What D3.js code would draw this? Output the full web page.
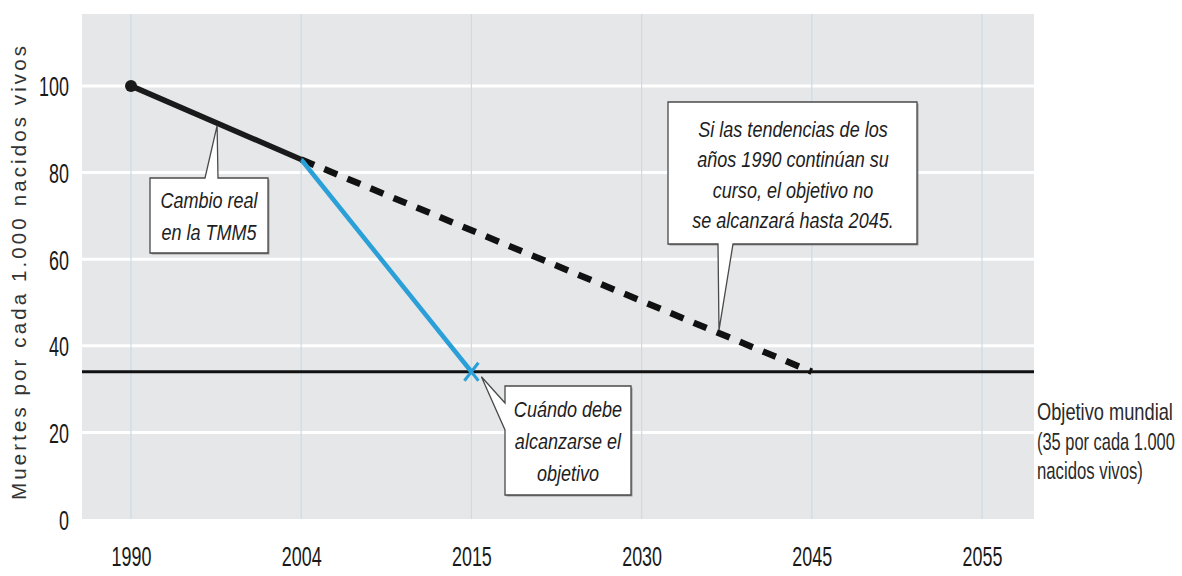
<!DOCTYPE html>
<html>
<head>
<meta charset="utf-8">
<script src="https://cdn.jsdelivr.net/npm/d3@7"></script>
<style>
  body { margin: 0; background: #fff; }
  text { font-family: "Liberation Sans", Arial, sans-serif; }
</style>
</head>
<body>
<div id="chart"></div>
<script>
// Chart data
const years = ["1990", "2004", "2015", "2030", "2045", "2055"];
const yTicks = [0, 20, 40, 60, 80, 100];
const actualYears = ["1990", "2004"];
const actualValues = [100, 83];
const neededYears = ["2004", "2015"];
const neededValues = [83, 34];
const trendYears = ["2004", "2045"];
const trendValues = [83, 34];
const targetValue = 34;
const targetLines = ["Objetivo mundial", "(35 por cada 1.000", "nacidos vivos)"];

const svgWidth = 1182;
const svgHeight = 576;
const margin = { top: 14, right: 148, bottom: 57, left: 82 };
const chartWidth = svgWidth - margin.left - margin.right;
const chartHeight = svgHeight - margin.top - margin.bottom;

// horizontal squeeze used for the condensed lettering
const narrowTicks = 0.64;
const narrowNotes = 0.82;

const svg = d3.select("#chart")
  .append("svg")
  .attr("width", svgWidth)
  .attr("height", svgHeight);

const chartGroup = svg.append("g")
  .attr("transform", `translate(${margin.left}, ${margin.top})`);

// scales
const xScale = d3.scalePoint()
  .domain(years)
  .range([49, 900]);

const yScale = d3.scaleLinear()
  .domain([0, 116.6])
  .range([chartHeight, 0]);

// plot background
chartGroup.append("rect")
  .attr("width", chartWidth)
  .attr("height", chartHeight)
  .attr("fill", "#e6e7e8");

// horizontal white grid
chartGroup.selectAll(".hgrid")
  .data(yTicks.filter(d => d > 0))
  .enter()
  .append("line")
  .attr("x1", 0)
  .attr("x2", chartWidth)
  .attr("y1", d => yScale(d))
  .attr("y2", d => yScale(d))
  .attr("stroke", "#fff")
  .attr("stroke-width", 3);

// vertical light blue grid
chartGroup.selectAll(".vgrid")
  .data(years)
  .enter()
  .append("line")
  .attr("x1", d => xScale(d))
  .attr("x2", d => xScale(d))
  .attr("y1", 0)
  .attr("y2", chartHeight)
  .attr("stroke", "#c9dcea")
  .attr("stroke-width", 1.2);

// axes (labels only)
const bottomAxis = d3.axisBottom(xScale).tickSize(0).tickPadding(0);
const leftAxis = d3.axisLeft(yScale).tickValues(yTicks).tickSize(0).tickPadding(0);

const xAxisG = chartGroup.append("g")
  .attr("transform", `translate(0, ${chartHeight})`)
  .call(bottomAxis);
xAxisG.select(".domain").remove();
xAxisG.selectAll("text")
  .attr("y", 0)
  .attr("dy", 0)
  .attr("transform", `translate(0, 47) scale(${narrowTicks}, 1)`)
  .attr("font-family", "Liberation Sans, Arial, sans-serif")
  .attr("font-size", 28)
  .attr("fill", "#1a1a1a");

const yAxisG = chartGroup.append("g").call(leftAxis);
yAxisG.select(".domain").remove();
yAxisG.selectAll("text")
  .attr("x", 0)
  .attr("dy", "0.36em")
  .attr("transform", `translate(-13, 0) scale(${narrowTicks}, 1)`)
  .attr("font-family", "Liberation Sans, Arial, sans-serif")
  .attr("font-size", 28)
  .attr("fill", "#1a1a1a");

// target line
chartGroup.append("line")
  .attr("x1", 0)
  .attr("x2", chartWidth)
  .attr("y1", yScale(targetValue))
  .attr("y2", yScale(targetValue))
  .attr("stroke", "#111")
  .attr("stroke-width", 3);

const line = d3.line()
  .x(d => xScale(d[0]))
  .y(d => yScale(d[1]));

// trend (dashed)
chartGroup.append("path")
  .attr("d", line(d3.zip(trendYears, trendValues)))
  .attr("fill", "none")
  .attr("stroke", "#111")
  .attr("stroke-width", 6.5)
  .attr("stroke-dasharray", "14,11");

// needed path (blue)
chartGroup.append("path")
  .attr("d", line(d3.zip(neededYears, neededValues)))
  .attr("fill", "none")
  .attr("stroke", "#2a9fd8")
  .attr("stroke-width", 4.5);

// actual change (solid black)
chartGroup.append("path")
  .attr("d", line(d3.zip(actualYears, actualValues)))
  .attr("fill", "none")
  .attr("stroke", "#1a1a1a")
  .attr("stroke-width", 5.5);

chartGroup.append("circle")
  .attr("cx", xScale(actualYears[0]))
  .attr("cy", yScale(actualValues[0]))
  .attr("r", 6)
  .attr("fill", "#1a1a1a");

// blue X at the goal
const gx = xScale(neededYears[1]);
const gy = yScale(neededValues[1]);
chartGroup.append("path")
  .attr("d", `M${gx - 7},${gy - 9}L${gx + 7},${gy + 9}M${gx + 7},${gy - 9}L${gx - 7},${gy + 9}`)
  .attr("stroke", "#2a9fd8")
  .attr("stroke-width", 3)
  .attr("fill", "none");

// point on a segment at fraction t
function along(ys, vs, t) {
  const x0 = xScale(ys[0]), x1 = xScale(ys[1]);
  const y0 = yScale(vs[0]), y1 = yScale(vs[1]);
  return [x0 + (x1 - x0) * t, y0 + (y1 - y0) * t];
}

// callouts (page coordinates)
const callouts = svg.append("g");

function callout(box, tail, apex, lines, cx, baseline, lineH) {
  const [x0, y0, x1, y1] = box;
  let pts;
  if (tail.side === "top") {
    pts = [[x0, y0], [tail.a, y0], apex, [tail.b, y0], [x1, y0], [x1, y1], [x0, y1]];
  } else if (tail.side === "bottom") {
    pts = [[x0, y0], [x1, y0], [x1, y1], [tail.b, y1], apex, [tail.a, y1], [x0, y1]];
  } else {
    pts = [[x0, y0], [x1, y0], [x1, y1], [x0, y1], [x0, tail.b], apex, [x0, tail.a]];
  }
  // soft shadow
  callouts.append("rect")
    .attr("x", x0 + 1.5).attr("y", y0 + 1.5)
    .attr("width", x1 - x0).attr("height", y1 - y0)
    .attr("fill", "#9a9a9a");
  callouts.append("path")
    .attr("d", "M" + pts.join("L") + "Z")
    .attr("fill", "#fff")
    .attr("stroke", "#4a4a4a")
    .attr("stroke-width", 1.3)
    .attr("stroke-linejoin", "miter");
  const t = callouts.append("text")
    .attr("font-style", "italic")
    .attr("font-size", 22)
    .attr("fill", "#1e1e1e")
    .attr("text-anchor", "middle")
    .attr("transform", `translate(${cx}, 0) scale(${narrowNotes}, 1)`);
  lines.forEach((s, i) => {
    t.append("tspan").attr("x", 0).attr("y", baseline + i * lineH).text(s);
  });
}

const a1 = along(actualYears, actualValues, 0.5);
callout([150, 178, 268, 253], { side: "top", a: 205, b: 218 },
  [a1[0] + margin.left + 1, a1[1] + margin.top + 3],
  ["Cambio real", "en la TMM5"], 209, 208, 32);

callout([505, 386, 631, 495], { side: "left", a: 403, b: 430 },
  [gx + margin.left + 10, gy + margin.top + 5],
  ["Cuándo debe", "alcanzarse el", "objetivo"], 568, 417, 32);

const a3 = along(trendYears, trendValues, (719 - margin.left - xScale("2004")) / (xScale("2045") - xScale("2004")));
callout([668, 102, 917, 244], { side: "bottom", a: 718, b: 733 },
  [a3[0] + margin.left, a3[1] + margin.top - 3],
  ["Si las tendencias de los", "años 1990 continúan su", "curso, el objetivo no", "se alcanzará hasta 2045."], 793, 137, 30.5);

// target label, each line squeezed to the width it has in the picture
const targetWidths = [136, 138, 106];
svg.selectAll(".target-label")
  .data(targetLines)
  .enter()
  .append("text")
  .attr("class", "target-label")
  .attr("font-size", 24)
  .attr("fill", "#2a2a2a")
  .text(d => d)
  .attr("transform", function (d, i) {
    const sx = targetWidths[i] / this.getComputedTextLength();
    return `translate(1037, ${420 + i * 29.5}) scale(${sx}, 1)`;
  });

// y-axis title
svg.append("text")
  .attr("transform", `translate(26, ${273}) rotate(-90)`)
  .attr("text-anchor", "middle")
  .attr("font-size", 20.5)
  .attr("fill", "#333")
  .attr("textLength", 454)
  .attr("lengthAdjust", "spacing")
  .text("Muertes por cada 1.000 nacidos vivos");
</script>
</body>
</html>
